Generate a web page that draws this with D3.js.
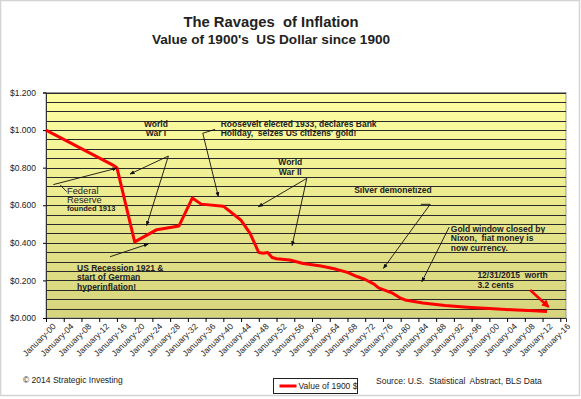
<!DOCTYPE html>
<html>
<head>
<meta charset="utf-8">
<script src="https://cdn.jsdelivr.net/npm/d3@7"></script>
<style>
body { margin: 0; background: #fff; }
text { font-family: Arial, "Liberation Sans", sans-serif; fill: #222; white-space: pre; }
</style>
</head>
<body>
<svg id="chart" width="581" height="399"></svg>
<script>
// value of a 1900 dollar
const years = [1900, 1915, 1916, 1920, 1925, 1930, 1933, 1935, 1940, 1944, 1946, 1948, 1949, 1950,
               1951, 1952, 1955, 1958, 1960, 1962, 1965, 1968, 1970, 1972, 1974, 1975, 1978,
               1980, 1981, 1985, 1990, 1995, 2000, 2005, 2010, 2013];
const values = [1.000, 0.815, 0.800, 0.405, 0.470, 0.490, 0.638, 0.606, 0.595, 0.520, 0.452, 0.348, 0.345, 0.348,
                0.322, 0.315, 0.309, 0.290, 0.283, 0.277, 0.262, 0.243, 0.222, 0.205, 0.180, 0.160, 0.134,
                0.105, 0.096, 0.080, 0.066, 0.057, 0.050, 0.044, 0.038, 0.034];
const seriesName = "Value of 1900 $";

const yTickValues = [0, 0.2, 0.4, 0.6, 0.8, 1.0, 1.2];

// annotations in [year, value] terms
const notes = [
  { at: [1924.8, 1.017], lines: ["World", "War I"], anchor: "middle" },
  { at: [1939.4, 1.018], lines: ["Roosevelt elected 1933, declares Bank", "Holiday,  seizes US citizens' gold!"] },
  { at: [1955.1, 0.814], lines: ["World", "War II"], anchor: "middle" },
  { at: [1969.5, 0.664], lines: ["Silver demonetized"] },
  { at: [1991.3, 0.459], lines: ["Gold window closed by", "Nixon,  fiat money is", "now currency."] },
  { at: [1997.3, 0.211], lines: ["12/31/2015  worth", "3.2 cents"] },
  { at: [1907.0, 0.252], lines: ["US Recession 1921 &", "start of German", "hyperinflation!"] }
];
const arrows = [
  [[1927.6, 0.862], [1918.95, 0.766]],
  [[1927.6, 0.862], [1922.7, 0.492]],
  [[1901.65, 0.710], [1915.95, 0.797]],
  [[1914.44, 0.326], [1923.08, 0.394]],
  [[1938.13, 1.004], [1935.36, 0.983], [1938.88, 0.646]],
  [[1958.83, 0.743], [1947.90, 0.592]],
  [[1958.83, 0.743], [1955.51, 0.385]],
  [[1984.55, 0.605], [1986.65, 0.605], [1976.11, 0.264]],
  [[1990.94, 0.484], [1984.78, 0.193]]
];
const redArrow = [[2009.2, 0.149], [2013.3, 0.060]];

const svg = d3.select("#chart");
const plotL = 46, plotR = 566, plotT = 92.5, plotB = 318;

const yearDate = v => new Date(Math.floor(v), 0, 1).getTime() + (v % 1) * 365.25 * 864e5;

const x = d3.scaleTime()
  .domain([new Date(1900, 0, 1), new Date(2017, 3, 15)])
  .range([plotL, plotR]);
const y = d3.scaleLinear().domain([0, 1.2]).range([plotB, plotT]);

// outer frame
svg.append("rect").attr("x", 0.5).attr("y", 0.5).attr("width", 579).attr("height", 395)
  .attr("fill", "#fff").attr("stroke", "#d4d4d4").attr("stroke-width", 1.5);

const defs = svg.append("defs");
const grad = defs.append("linearGradient").attr("id", "bg").attr("x1", 0).attr("y1", 0).attr("x2", 0).attr("y2", 1);
grad.append("stop").attr("offset", 0).attr("stop-color", "#ffffa2");
grad.append("stop").attr("offset", 1).attr("stop-color", "#d6d47c");

defs.append("marker").attr("id", "ah").attr("viewBox", "0 0 10 10").attr("refX", 9).attr("refY", 5)
  .attr("markerWidth", 5).attr("markerHeight", 5).attr("orient", "auto").attr("markerUnits", "userSpaceOnUse")
  .append("path").attr("d", "M0,1 L10,5 L0,9 Z").attr("fill", "#111");
defs.append("marker").attr("id", "ahr").attr("viewBox", "0 0 10 10").attr("refX", 8).attr("refY", 5)
  .attr("markerWidth", 8).attr("markerHeight", 8).attr("orient", "auto").attr("markerUnits", "userSpaceOnUse")
  .append("path").attr("d", "M0,0 L10,5 L0,10 Z").attr("fill", "#f00");

svg.append("rect").attr("x", plotL).attr("y", plotT).attr("width", plotR - plotL).attr("height", plotB - plotT)
  .attr("fill", "url(#bg)").attr("stroke", "#999").attr("stroke-width", 1);

// gridlines every 0.05
svg.append("g").selectAll("line").data(y.ticks(24)).join("line")
  .attr("x1", plotL).attr("x2", plotR)
  .attr("y1", d => Math.round(y(d)) + 0.5).attr("y2", d => Math.round(y(d)) + 0.5)
  .attr("stroke", "#2a2a2a").attr("stroke-width", 1);

// y axis
const yAxis = svg.append("g").attr("transform", `translate(${plotL},0)`)
  .call(d3.axisLeft(y).tickValues(yTickValues).tickSize(3).tickPadding(7)
    .tickFormat(d => "$" + d3.format(".3f")(d)));
yAxis.selectAll("text").style("font-size", "8.5px").attr("fill", "#222");
yAxis.select(".domain").attr("stroke", "#333");

// x axis
const xAxis = svg.append("g").attr("transform", `translate(0,${plotB})`)
  .call(d3.axisBottom(x).ticks(d3.timeYear.every(4)).tickSize(4).tickFormat(d3.timeFormat("%B-%y")));
xAxis.select(".domain").attr("stroke", "#333");
xAxis.selectAll("text")
  .style("font-size", "8.5px").attr("fill", "#222")
  .attr("text-anchor", "end")
  .attr("transform", "translate(5,4) rotate(-45)")
  .attr("dy", "0.35em").attr("y", 4).attr("x", 0);

// the series
const pts = years.map((yr, i) => [new Date(yr, 0, 1), values[i]]);
svg.append("path").datum(pts)
  .attr("fill", "none").attr("stroke", "#ff0000").attr("stroke-width", 3).attr("stroke-linejoin", "round")
  .attr("d", d3.line().x(d => x(d[0])).y(d => y(d[1])));

// annotations
const px = p => [x(yearDate(p[0])), y(p[1])];
svg.append("g").selectAll("path").data(arrows).join("path")
  .attr("fill", "none").attr("stroke", "#111").attr("stroke-width", 0.9)
  .attr("marker-end", "url(#ah)")
  .attr("d", d => d3.line()(d.map(px)));

svg.append("path").attr("fill", "none").attr("stroke", "#f00").attr("stroke-width", 2.5)
  .attr("marker-end", "url(#ahr)").attr("d", d3.line()(redArrow.map(px)));

const noteG = svg.append("g").selectAll("text").data(notes).join("text")
  .attr("x", d => px(d.at)[0]).attr("y", d => px(d.at)[1])
  .attr("text-anchor", d => d.anchor || "start")
  .style("font-size", "8.5px").style("font-weight", "bold");
noteG.selectAll("tspan").data(d => d.lines.map(l => ({ l, x: px(d.at)[0] }))).join("tspan")
  .attr("x", d => d.x).attr("dy", (d, i) => i ? 9.5 : 0).text(d => d.l);

// federal reserve label, with its own leader
const fedAt = px([1904.74, 0.660]);
svg.append("line").attr("x1", px([1903.2, 0.708])[0]).attr("y1", px([1903.2, 0.708])[1])
  .attr("x2", px([1904.7, 0.672])[0]).attr("y2", px([1904.7, 0.672])[1])
  .attr("stroke", "#111").attr("stroke-width", 0.9);
const fed = svg.append("text").attr("x", fedAt[0]).attr("y", fedAt[1]);
fed.append("tspan").attr("x", fedAt[0]).style("font-size", "9.3px").text("Federal");
fed.append("tspan").attr("x", fedAt[0]).attr("dy", 8.7).style("font-size", "9.3px").text("Reserve");
fed.append("tspan").attr("x", fedAt[0]).attr("dy", 8.3).style("font-size", "7.5px").style("font-weight", "bold").text("founded 1913");

// titles
svg.append("text").attr("x", 271).attr("y", 27).attr("text-anchor", "middle")
  .style("font-size", "14.8px").style("font-weight", "bold").attr("fill", "#111")
  .text("The Ravages  of Inflation");
svg.append("text").attr("x", 271).attr("y", 44).attr("text-anchor", "middle")
  .style("font-size", "13.6px").style("font-weight", "bold").attr("fill", "#111")
  .text("Value of 1900's  US Dollar since 1900");

// footer
svg.append("text").attr("x", 23).attr("y", 383).style("font-size", "8.5px").text("© 2014 Strategic Investing");
svg.append("text").attr("x", 376).attr("y", 384).style("font-size", "8.5px")
  .text("Source: U.S.  Statistical  Abstract, BLS Data");

// legend
const lg = svg.append("g").attr("transform", "translate(273.5,378.5)");
lg.append("rect").attr("width", 84).attr("height", 15).attr("fill", "#fff").attr("stroke", "#222");
lg.append("line").attr("x1", 6).attr("x2", 23).attr("y1", 7.5).attr("y2", 7.5)
  .attr("stroke", "#ff0000").attr("stroke-width", 3);
lg.append("text").attr("x", 25).attr("y", 10.5).style("font-size", "8.5px").text(seriesName);
</script>
</body>
</html>
